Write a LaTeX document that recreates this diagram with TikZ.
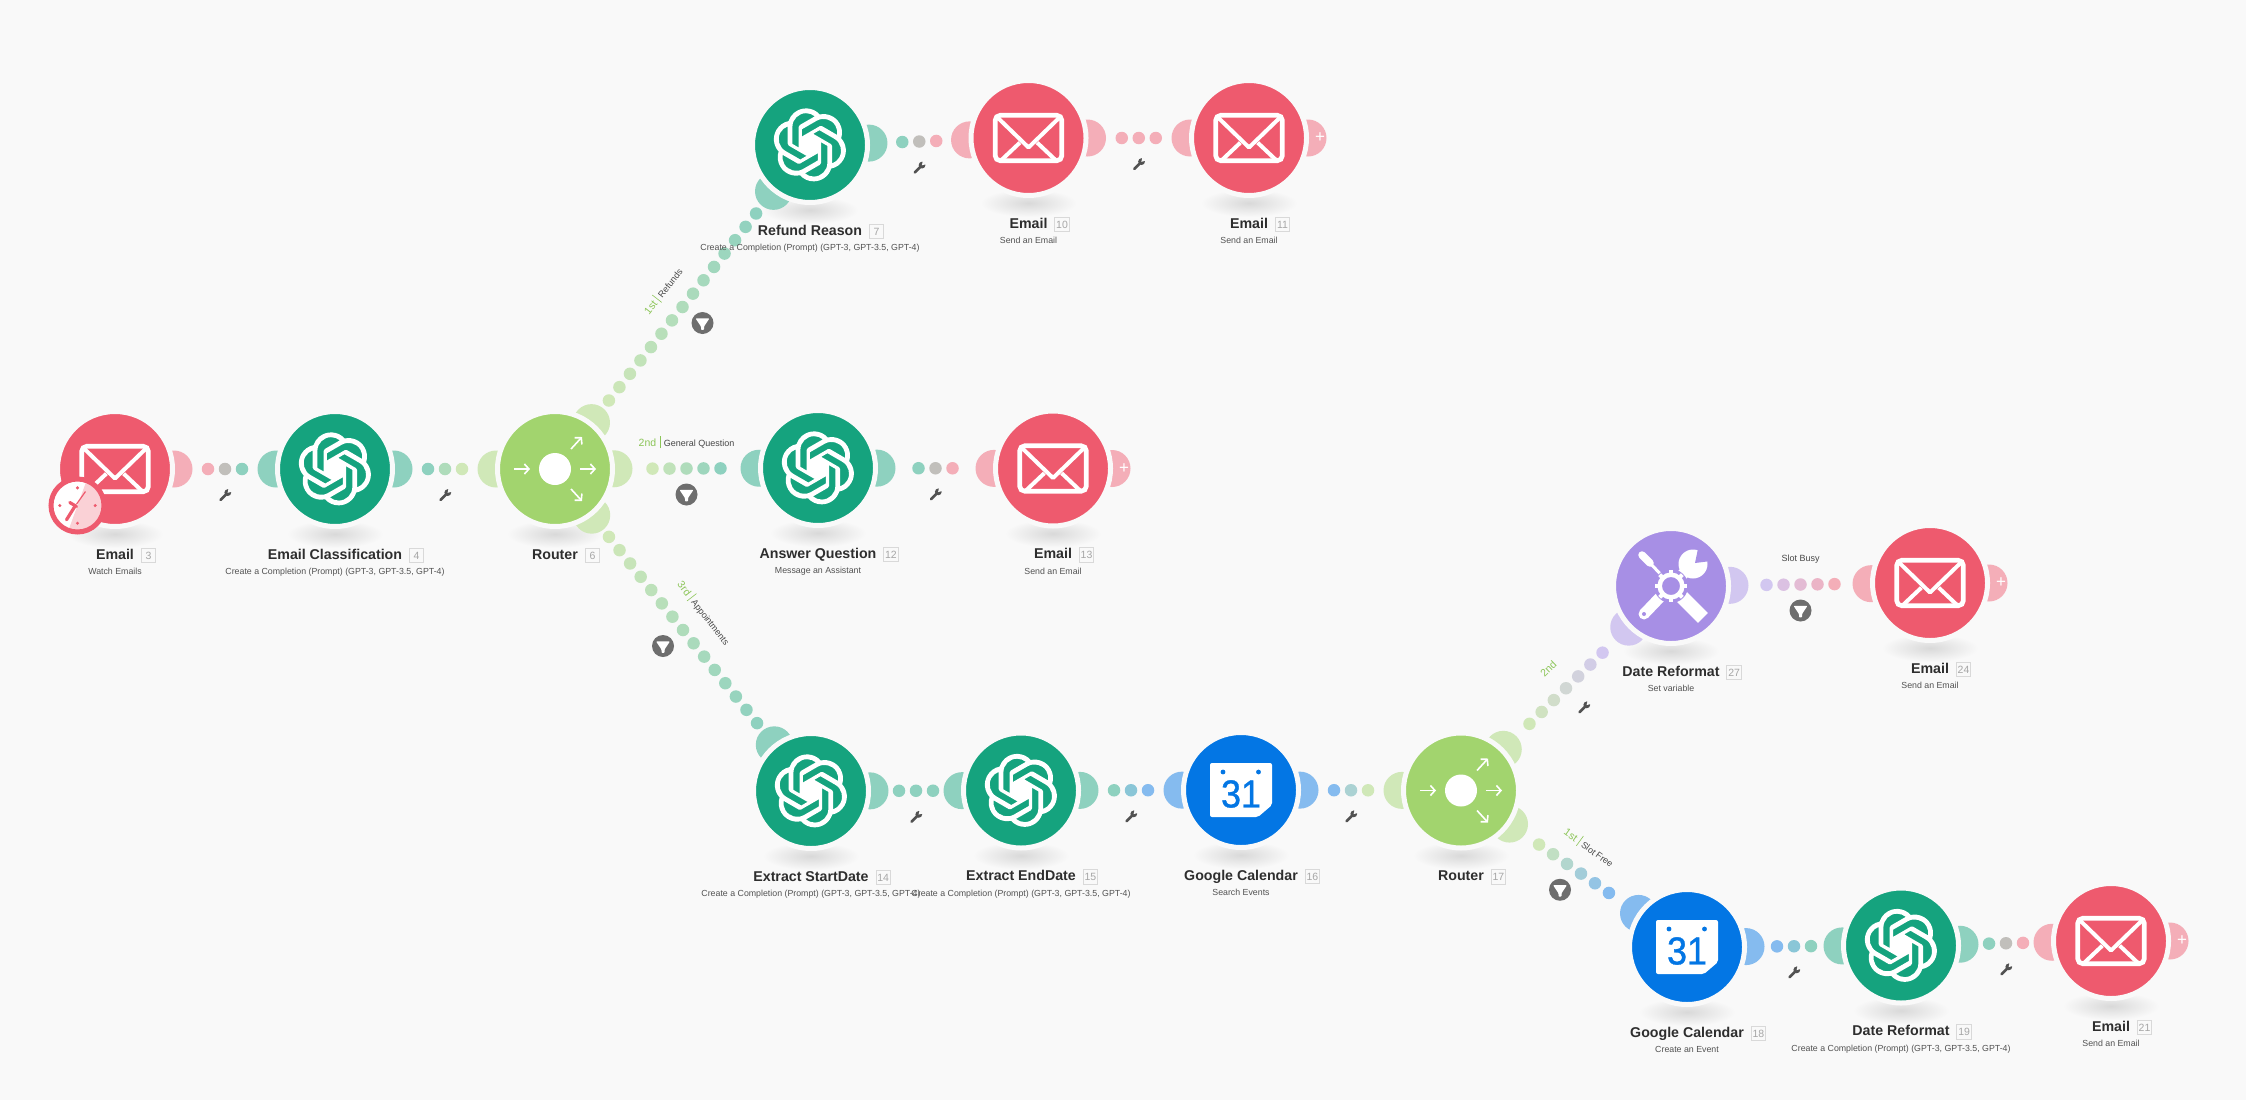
\documentclass[tikz,border=0pt]{standalone}
\usepackage{fontspec}
\setmainfont{Liberation Sans}
\usetikzlibrary{calc,positioning,backgrounds,arrows.meta,svg.path}

\definecolor{bgcol}{HTML}{F9F9F9}
\definecolor{mailred}{HTML}{EE5A6E}
\definecolor{gptgreen}{HTML}{15A37E}
\definecolor{routegreen}{HTML}{A2D46E}
\definecolor{toolviolet}{HTML}{A78FE5}
\definecolor{calblue}{HTML}{0376E4}
\definecolor{ordgreen}{HTML}{8CC558}
\newcommand{\gptsub}{Create a Completion (Prompt) (GPT-3, GPT-3.5, GPT-4)}
\newcommand{\mailsub}{Send an Email}
\newfontfamily\calfont[FakeBold=0.9]{Liberation Sans}

\tikzset{
  module/.style={circle,draw=bgcol,line width=5pt,minimum size=115pt,inner sep=0pt,outer sep=0pt},
  portdisc/.style={circle,minimum size=37pt,inner sep=0pt,outer sep=0pt},
  linkdot/.style={circle,minimum size=12.5pt,inner sep=0pt,outer sep=0pt},
  titletext/.style={font=\fontsize{14.2}{16}\selectfont\bfseries,text=black!82,inner sep=0pt,text height=10.5pt,text depth=3pt},
  subtext/.style={font=\fontsize{8.8}{11}\selectfont,text=black!68,inner sep=0pt,text height=7pt,text depth=2pt},
  numbox/.style={draw=black!15,line width=.8pt,font=\fontsize{10.5}{11}\selectfont,text=black!35,inner sep=0pt,minimum size=14.5pt},
  linklabel/.style={font=\fontsize{9}{11}\selectfont,text=black!72,inner sep=0pt},
  mailicon/.pic={
    \draw[white,line width=4.7pt,rounded corners=5pt] (-33.3,-22.7) rectangle (33.3,22.7);
    \draw[white,line width=4pt,line join=round] (-31,-20.5) -- (0,9.5) -- (31,-20.5);
    \draw[white,line width=4pt] (-27,22) -- (-8.7,4.7);
    \draw[white,line width=4pt] (27,22) -- (8.7,4.7);
  },
  gpticon/.pic={
    \fill[white,xscale=3.04,yscale=-3.04,shift={(-12bp,-12bp)}] svg {M 22.2819 9.8211 a 5.9847 5.9847 0 0 0 -0.5157 -4.9108 a 6.0462 6.0462 0 0 0 -6.5098 -2.9 A 6.0651 6.0651 0 0 0 4.9807 4.1818 a 5.9847 5.9847 0 0 0 -3.9977 2.9 a 6.0462 6.0462 0 0 0 0.7427 7.0966 a 5.98 5.98 0 0 0 0.511 4.9107 a 6.051 6.051 0 0 0 6.5146 2.9001 A 5.9847 5.9847 0 0 0 13.2599 24 a 6.0557 6.0557 0 0 0 5.7718 -4.2058 a 5.9894 5.9894 0 0 0 3.9977 -2.9001 a 6.0557 6.0557 0 0 0 -0.7475 -7.0729 z
    M 13.2599 22.4292 a 4.4755 4.4755 0 0 1 -2.8764 -1.0408 l 0.1419 -0.0804 l 4.7783 -2.7582 l 0.3927 -0.6813 v -6.7369 l 2.02 1.1686 l 0.038 0.052 v 5.5826 a 4.504 4.504 0 0 1 -4.4945 4.4944 z
    M 3.5992 18.3038 a 4.4708 4.4708 0 0 1 -0.5346 -3.0137 l 0.142 0.0852 l 4.783 2.7582 l 0.7806 0 l 5.8428 -3.3685 v 2.3324 l -0.0332 0.0615 L 9.74 19.9502 a 4.4992 4.4992 0 0 1 -6.1408 -1.6464 z
    M 2.3408 7.8956 a 4.485 4.485 0 0 1 2.3655 -1.9728 V 11.6 l 0.3879 0.6765 l 5.8144 3.3543 l -2.0201 1.1685 l -0.071 0 l -4.8303 -2.7865 A 4.504 4.504 0 0 1 2.3408 7.872 z
    M 18.9371 11.7514 L 13.1038 8.364 L 15.1192 7.2 l 0.071 0 l 4.8303 2.7913 a 4.4944 4.4944 0 0 1 -0.6765 8.1042 v -5.6772 l -0.407 -0.667 z
    M 20.9478 8.7283 l -0.142 -0.0852 l -4.7735 -2.7818 l -0.7854 0 L 9.409 9.2297 V 6.8974 l 0.0284 -0.0615 l 4.8303 -2.7866 a 4.4992 4.4992 0 0 1 6.6802 4.66 z
    M 8.3065 12.863 l -2.02 -1.1638 l -0.038 -0.0567 V 6.0742 a 4.4992 4.4992 0 0 1 7.3757 -3.4537 l -0.142 0.0805 L 8.704 5.459 l -0.3927 0.6813 z};
  },
  routericon/.pic={
    \fill[white] (0,0) circle (16);
    \draw[white,line width=1.6pt,-{Straight Barb[length=4.5pt,width=10pt]}] (-41,0) -- (-25,0);
    \draw[white,line width=1.6pt,-{Straight Barb[length=4.5pt,width=10pt]}] (25,0) -- (41,0);
    \draw[white,line width=1.6pt,-{Straight Barb[length=4.5pt,width=10pt]}] (16,-20) -- (27,-32);
    \draw[white,line width=1.6pt,-{Straight Barb[length=4.5pt,width=10pt]}] (16,20) -- (27,32);
  },
  toolicon/.pic={
    \draw[white,line width=11pt,line cap=round] (-27,28) -- (-5,5);
    \fill[toolviolet] (-27,28) circle (2);
    \draw[white,line width=3pt] (-6,-7) -- (-21,-23);
    \draw[white,line width=7.5pt,line cap=round] (-21,-23) -- (-29,-31);
    \draw[white,line width=14pt,line cap=rect] (12,12) -- (27,27);
    \draw[white,line width=11pt] (7,-7) -- (22,-22);
    \fill[white] (22,-22) circle (14.5);
    \fill[toolviolet] (24,-23) -- (28,-42) -- (48,-26) -- cycle;
    \fill[toolviolet] (0,0) circle (17);
    \draw[white,line width=4.5pt] (0,0) circle (11.3);
    \foreach \a in {0,45,...,315} {\draw[white,line width=4pt] (\a:12) -- (\a:16);}
  },
  calicon/.pic={
    \fill[white,rounded corners=2pt] (-31,-27) -- (31,-27) -- (31,15) -- (17,27) -- (-31,27) -- cycle;
    \fill[calblue] (-18,-18) circle (2.4) (17.5,-18) circle (2.4);
    \node[text=calblue,font=\calfont\fontsize{39}{40}\selectfont,inner sep=0pt,xscale=.92] at (0,4) {31};
  },
  clockicon/.pic={
    \fill[white] (0,0) circle (25);
    \fill[mailred!28!white] (0,0) -- (110:25) arc (110:-70:25) -- cycle;
    \draw[mailred,line width=5pt] (0,0) circle (26.5);
    \foreach \dx/\dy in {-17.7/0,17.7/0,0/-17.7,0/17.7} {\fill[mailred] (\dx,\dy) circle (1.7);}
    \draw[mailred,line width=3.2pt,line cap=round] (-7.7,-3) -- (-1,1);
    \draw[mailred,line width=3.2pt,line cap=round] (-2.7,1) -- (-11,14.3);
    \draw[mailred,line width=1.2pt] (-1,-1.3) -- (8,-14);
  },
  fixicon/.pic={
    \draw[black!68,line width=2.6pt,line cap=round] (-4.5,5) -- (1.5,-1);
    \fill[black!68] (2.8,-2.4) circle (3.4);
    \fill[bgcol] (2.6,-2.2) -- (3.6,-6.6) -- (7.6,-3.4) -- cycle;
  },
  filtericon/.pic={
    \fill[black!57] (0,0) circle (11);
    \fill[white,rounded corners=.8pt] (-6.9,-4.6) -- (6.9,-4.6) -- (1.5,3.6) -- (1.5,6.9) -- (-1.5,6.9) -- (-1.5,3.6) -- cycle;
  },
}

% ports on both ends, dots in between
\newcommand{\dotlink}[5]{%
  \node[portdisc,fill=#4!47!bgcol] at ($(#1)!59pt!(#2)$) {};
  \node[portdisc,fill=#5!47!bgcol] at ($(#2)!59pt!(#1)$) {};
  \coordinate (midlink) at ($(#1)!.5!(#2)$);
  \foreach \i in {1,...,#3} {
    \pgfmathsetmacro\off{(\i-(#3+1)/2)*17}
    \pgfmathsetmacro\pct{(\i-1)/(#3-1)*100}
    \colorlet{dotmix}{#5!\pct!#4}
    \node[linkdot,fill=dotmix!47!bgcol] at ($(midlink)!\off pt!(#2)$) {};
  }
}

\begin{document}
\begin{tikzpicture}[x=1pt,y=-1pt]
  \useasboundingbox (0,0) rectangle (2246,1100);
  \begin{pgfonlayer}{background}
    \fill[bgcol] (0,0) rectangle (2246,1100);
  \end{pgfonlayer}
  \foreach \nm/\x/\y/\col/\ic/\ttl/\num/\sub in {
    email3/115/469/mailred/mailicon/Email/3/Watch Emails,
    class4/335/469/gptgreen/gpticon/Email Classification/4/\gptsub,
    router6/555/469/routegreen/routericon/Router/6/{},
    refund7/810/145/gptgreen/gpticon/Refund Reason/7/\gptsub,
    email10/1028.5/138/mailred/mailicon/Email/10/\mailsub,
    email11/1249/138/mailred/mailicon/Email/11/\mailsub,
    answer12/818/468/gptgreen/gpticon/Answer Question/12/Message an Assistant,
    email13/1053/468.5/mailred/mailicon/Email/13/\mailsub,
    start14/811/791/gptgreen/gpticon/Extract StartDate/14/\gptsub,
    end15/1021/790.5/gptgreen/gpticon/Extract EndDate/15/\gptsub,
    cal16/1241/790/calblue/calicon/Google Calendar/16/Search Events,
    router17/1461/790.5/routegreen/routericon/Router/17/{},
    reformat27/1671/586/toolviolet/toolicon/Date Reformat/27/Set variable,
    email24/1930/583/mailred/mailicon/Email/24/\mailsub,
    cal18/1687/947/calblue/calicon/Google Calendar/18/Create an Event,
    reformat19/1901/945.5/gptgreen/gpticon/Date Reformat/19/\gptsub,
    email21/2111/941/mailred/mailicon/Email/21/\mailsub} {
    \node[module,fill=\col] (\nm) at (\x,\y) {};
    \begin{pgfonlayer}{background}
      \shade[inner color=black!15,outer color=bgcol] ($(\nm)+(0,65)$) ellipse (48 and 14);
    \end{pgfonlayer}
    \pic at (\nm) {\ic};
    \node[titletext] (\nm-title) at ($(\nm)+(0,86.5)$) {\ttl};
    \node[numbox,right=6.7pt of \nm-title] (\nm-num) {\num};
    \node[subtext] (\nm-sub) at ($(\nm)+(0,103.3)$) {\sub};
  }
  \pic at ($(email3)+(-37.5,36.5)$) {clockicon};

  \begin{pgfonlayer}{background}
    \dotlink{email3}{class4}{3}{mailred}{gptgreen}
    \dotlink{class4}{router6}{3}{gptgreen}{routegreen}
    \dotlink{router6}{refund7}{15}{routegreen}{gptgreen}
    \dotlink{refund7}{email10}{3}{gptgreen}{mailred}
    \dotlink{email10}{email11}{3}{mailred}{mailred}
    \dotlink{router6}{answer12}{5}{routegreen}{gptgreen}
    \dotlink{answer12}{email13}{3}{gptgreen}{mailred}
    \dotlink{router6}{start14}{15}{routegreen}{gptgreen}
    \dotlink{start14}{end15}{3}{gptgreen}{gptgreen}
    \dotlink{end15}{cal16}{3}{gptgreen}{calblue}
    \dotlink{cal16}{router17}{3}{calblue}{routegreen}
    \dotlink{router17}{reformat27}{7}{routegreen}{toolviolet}
    \dotlink{reformat27}{email24}{5}{toolviolet}{mailred}
    \dotlink{router17}{cal18}{6}{routegreen}{calblue}
    \dotlink{cal18}{reformat19}{3}{calblue}{gptgreen}
    \dotlink{reformat19}{email21}{3}{gptgreen}{mailred}
    \foreach \nm in {email11,email13,email24,email21} {
      \node[portdisc,fill=mailred!47!bgcol] (\nm-out) at ($(\nm)+(59,0)$) {};
    }
  \end{pgfonlayer}
  \foreach \nm in {email11,email13,email24,email21} {
    \node[text=white,inner sep=0pt,font=\fontsize{17}{18}\selectfont] at ($(\nm)+(71,0)$) {+};
  }

  % wrenches and filters
  \foreach \a/\b in {email3/class4,class4/router6,refund7/email10,email10/email11,answer12/email13,start14/end15,end15/cal16,cal16/router17,cal18/reformat19,reformat19/email21} {
    \pic at ($($(\a)!.5!(\b)$)+(0,26)$) {fixicon};
  }
  \pic at ($($(router17)!.5!(reformat27)$)+(18,19)$) {fixicon};
  \pic at ($($(router6)!.5!(refund7)$)+(20,16)$) {filtericon};
  \pic at ($($(router6)!.5!(answer12)$)+(0,26)$) {filtericon};
  \pic at ($($(router6)!.5!(start14)$)+(-20,16)$) {filtericon};
  \pic at ($($(reformat27)!.5!(email24)$)+(0,26)$) {filtericon};
  \pic at ($($(router17)!.5!(cal18)$)+(-14,21)$) {filtericon};

  % link labels
  \node[linklabel,rotate=52] (lab1) at (663,291) {\textcolor{ordgreen}{\fontsize{10.5}{11}\selectfont 1st}\hspace{3.5pt}\textcolor{ordgreen}{\rule[-2pt]{.6pt}{12pt}}\hspace{3.5pt}Refunds};
  \node[linklabel] (lab2) at (686.5,442) {\textcolor{ordgreen}{\fontsize{10.5}{11}\selectfont 2nd}\hspace{3.5pt}\textcolor{ordgreen}{\rule[-2pt]{.6pt}{12pt}}\hspace{3.5pt}General Question};
  \node[linklabel,rotate=-52] (lab3) at (704,613) {\textcolor{ordgreen}{\fontsize{10.5}{11}\selectfont 3rd}\hspace{3.5pt}\textcolor{ordgreen}{\rule[-2pt]{.6pt}{12pt}}\hspace{3.5pt}Appointments};
  \node[linklabel,rotate=44] (lab4) at (1548.4,669) {\textcolor{ordgreen}{\fontsize{10.5}{11}\selectfont 2nd}};
  \node[linklabel,rotate=-36] (lab5) at (1589,847.5) {\textcolor{ordgreen}{\fontsize{10.5}{11}\selectfont 1st}\hspace{3.5pt}\textcolor{ordgreen}{\rule[-2pt]{.6pt}{12pt}}\hspace{3.5pt}Slot Free};
  \node[linklabel] (lab6) at (1800.7,558.7) {Slot Busy};
\end{tikzpicture}
\end{document}
